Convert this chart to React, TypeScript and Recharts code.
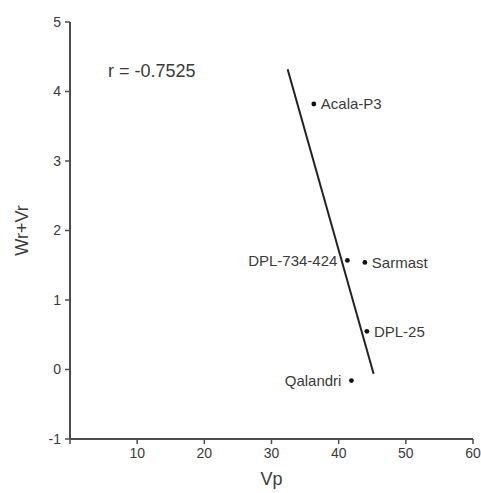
import { ScatterChart, Scatter, XAxis, YAxis } from 'recharts';

const cultivars = ['Acala-P3', 'DPL-734-424', 'Sarmast', 'DPL-25', 'Qalandri'];
const vp = [36.3, 41.3, 43.9, 44.2, 41.9];
const wrVr = [3.82, 1.57, 1.54, 0.55, -0.16];
// names whose label sits on the left of the dot
const leftLabelled = ['DPL-734-424', 'Qalandri'];

// regression line end points
const lineVp = [32.4, 45.2];
const lineWrVr = [4.32, -0.06];

const xTicks = [0, 10, 20, 30, 40, 50, 60];
const yTicks = [-1, 0, 1, 2, 3, 4, 5];
const rText = 'r = -0.7525';

const points = cultivars.map((name, i) => ({ name, x: vp[i], y: wrVr[i] }));
const lineData = lineVp.map((x, i) => ({ x, y: lineWrVr[i] }));

const FONT = '"Liberation Sans", Arial, sans-serif';
const AXIS = '#4d4d4d';
const TEXT = '#3a3a3a';

const PointShape = (props: any) => {
  const { cx, cy, payload } = props;
  const left = leftLabelled.includes(payload.name);
  return (
    <g>
      <circle cx={cx} cy={cy} r={2.4} fill="#111" />
      <text
        x={left ? cx - 10 : cx + 7}
        y={cy}
        dy="0.35em"
        textAnchor={left ? 'end' : 'start'}
        fontSize={15}
        fontFamily={FONT}
        fill={TEXT}
      >
        {payload.name}
      </text>
    </g>
  );
};

export default function App() {
  return (
    <div style={{ position: 'absolute', left: 0, top: 0, width: 481, height: 493, background: '#fff' }}>
      <ScatterChart width={481} height={493} margin={{ top: 22, right: 8, bottom: 0, left: 0 }}>
        <XAxis
          type="number"
          dataKey="x"
          domain={[0, 60]}
          ticks={xTicks}
          tickFormatter={(v: number) => (v === 0 ? '' : String(v))}
          height={54}
          axisLine={{ stroke: AXIS, strokeWidth: 2 }}
          tickLine={{ stroke: AXIS, strokeWidth: 1.5 }}
          tickSize={5}
          tickMargin={4}
          tick={{ fontSize: 14, fill: TEXT, fontFamily: FONT }}
          label={{ value: 'Vp', position: 'insideBottom', offset: 8, fontSize: 18, fill: TEXT, fontFamily: FONT }}
        />
        <YAxis
          type="number"
          dataKey="y"
          domain={[-1, 5]}
          ticks={yTicks}
          width={70}
          axisLine={{ stroke: AXIS, strokeWidth: 2 }}
          tickLine={{ stroke: AXIS, strokeWidth: 1.5 }}
          tickSize={5}
          tickMargin={4}
          tick={{ fontSize: 14, fill: TEXT, fontFamily: FONT }}
          label={{
            value: 'Wr+Vr',
            angle: -90,
            position: 'insideLeft',
            offset: 22,
            fontSize: 18,
            fill: TEXT,
            fontFamily: FONT,
            style: { textAnchor: 'middle' },
          }}
        />
        <Scatter
          data={lineData}
          line={{ stroke: '#222', strokeWidth: 2 }}
          shape={() => <g />}
          isAnimationActive={false}
        />
        <Scatter data={points} shape={PointShape} isAnimationActive={false} />
      </ScatterChart>
      <div
        style={{
          position: 'absolute',
          left: 108,
          top: 61,
          fontSize: 18,
          fontFamily: FONT,
          color: TEXT,
          lineHeight: '20px',
          whiteSpace: 'nowrap',
        }}
      >
        {rText}
      </div>
    </div>
  );
}
